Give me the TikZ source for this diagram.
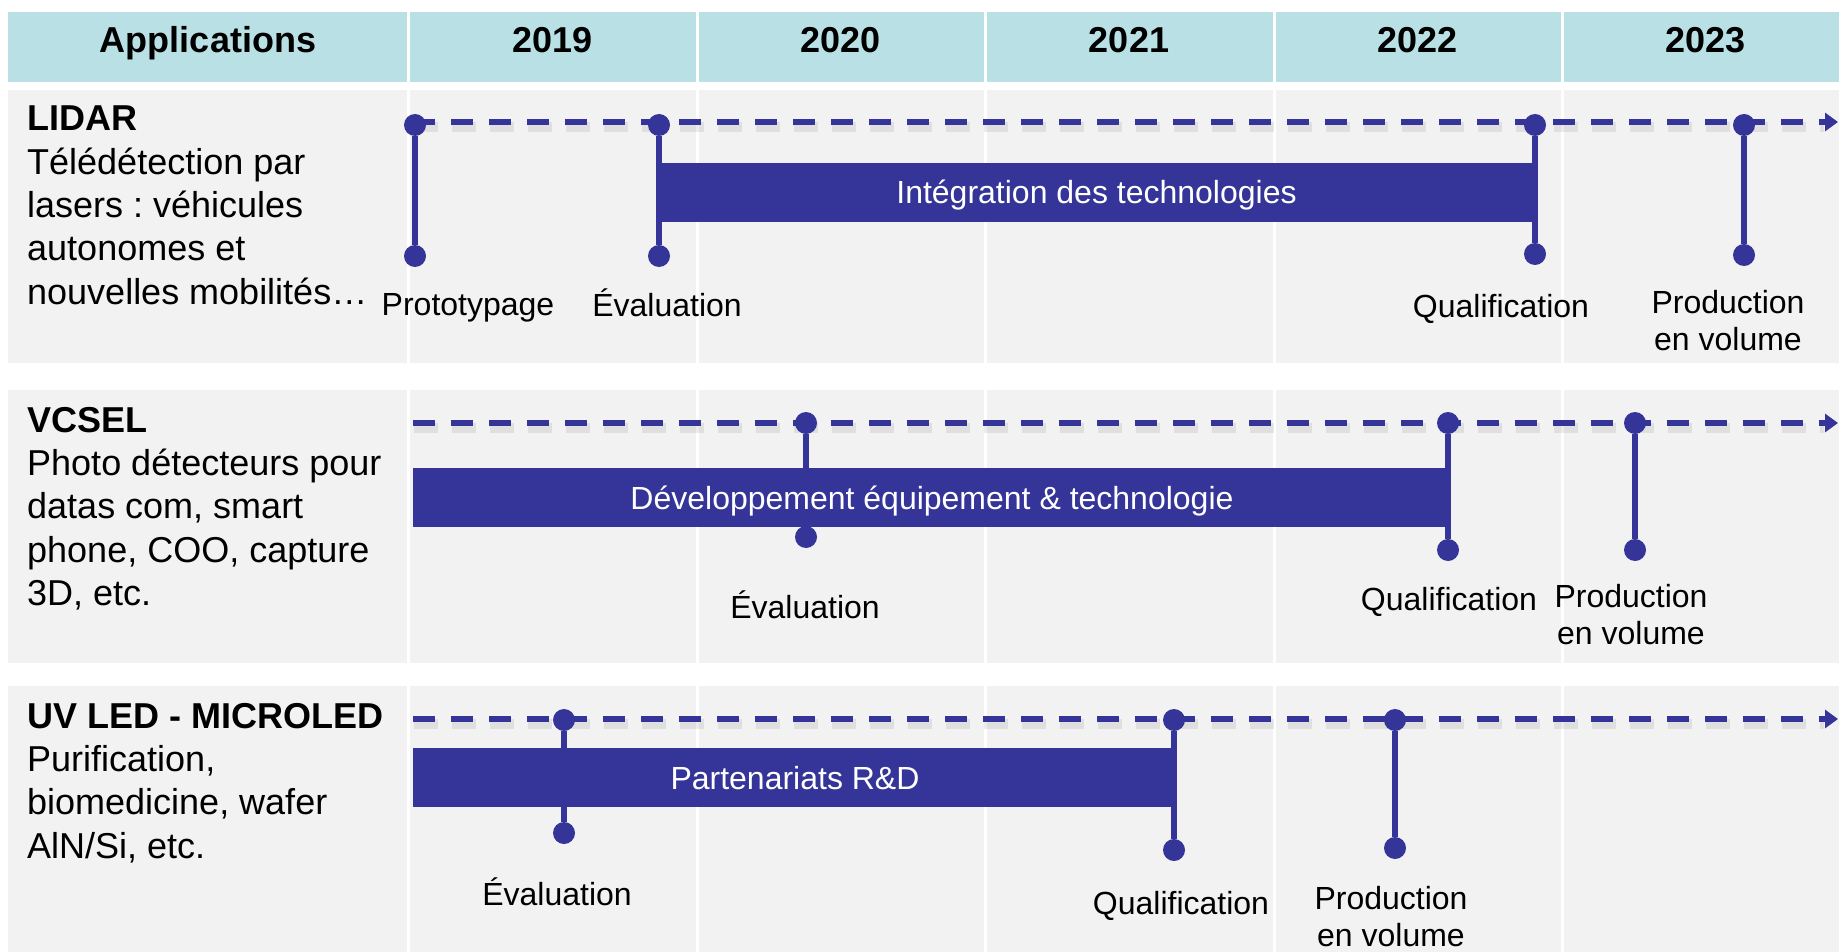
\documentclass[tikz,border=0pt]{standalone}
\usepackage{fontspec}
\setmainfont{Liberation Sans}
\usetikzlibrary{arrows.meta}
\definecolor{hdrteal}{RGB}{185,224,228}
\definecolor{rowgrey}{RGB}{242,242,242}
\definecolor{navy}{RGB}{53,52,152}
\frenchspacing

\begin{document}
\begin{tikzpicture}[x=1pt, y=-1pt,
    hdrtext/.style = {anchor=base, inner sep=0pt, font=\fontsize{36}{43}\selectfont\bfseries},
    rowtext/.style = {anchor=north west, align=left, inner sep=0pt, font=\fontsize{36}{43.3}\selectfont},
    mlabel/.style = {anchor=base, inner sep=0pt, font=\fontsize{32}{37}\selectfont},
    mlabeltwo/.style = {anchor=north, align=center, inner sep=0pt, font=\fontsize{32}{37}\selectfont},
    knob/.style = {circle, fill=navy, inner sep=0pt, minimum size=22pt},
    stemline/.style = {navy, line width=5.5pt},
    barbox/.style = {fill=navy, text=white, inner sep=0pt, minimum height=59pt,
                     text height=23pt, text depth=0pt, font=\fontsize{32}{37}\selectfont},
    timeline/.style = {navy, line width=6pt, dash pattern=on 22pt off 16pt,
                       -{Triangle[length=13pt,width=18pt]}},
    shadowline/.style = {black, opacity=0.08, line width=10pt, dash pattern=on 24pt off 14pt}]

    % background
    \useasboundingbox (0,0) rectangle (1839,952);
    \fill[white] (0,0) rectangle (1839,952);
    \fill[hdrteal] (8,12) rectangle (1839,82);
    \fill[rowgrey] (8,90) rectangle (1839,363);
    \fill[rowgrey] (8,390) rectangle (1839,663);
    \fill[rowgrey] (8,686) rectangle (1839,952);
    \foreach \x in {408.5,697,985.5,1274,1562}
        \draw[white, line width=3pt] (\x,12) -- (\x,952);

    % header
    \node[hdrtext] (happ) at (208,53) {Applications};
    \foreach \yr [count=\i] in {2019,2020,2021,2022,2023}
        \node[hdrtext] (h\yr) at ({408+288.4*(\i-0.5)},53) {\yr};

    % applications
    \node[rowtext] (lidar) at (27,106) {\textbf{LIDAR}\\Télédétection par\\lasers : véhicules\\autonomes et\\nouvelles mobilités…};
    \node[rowtext] (vcsel) at (27,407) {\textbf{VCSEL}\\Photo détecteurs pour\\datas com, smart\\phone, COO, capture\\3D, etc.};
    \node[rowtext] (uvled) at (27,703) {\textbf{UV LED - MICROLED}\\Purification,\\biomedicine, wafer\\AlN/Si, etc.};

    % timelines
    \coordinate (ls) at (413,122);  \coordinate (le) at (1838,122);
    \coordinate (vs) at (413,423);  \coordinate (ve) at (1838,423);
    \coordinate (us) at (413,719);  \coordinate (ue) at (1838,719);
    \draw[shadowline] ([xshift=1pt,yshift=-5pt]ls) -- ([xshift=-14pt,yshift=-5pt]le);
    \draw[shadowline] ([xshift=1pt,yshift=-5pt]vs) -- ([xshift=-14pt,yshift=-5pt]ve);
    \draw[shadowline] ([xshift=1pt,yshift=-5pt]us) -- ([xshift=-14pt,yshift=-5pt]ue);
    \draw[timeline] (ls) -- (le);
    \draw[timeline] (vs) -- (ve);
    \draw[timeline] (us) -- (ue);

    % VCSEL evaluation sits behind its bar
    \node[knob] (vt1) at (806,423) {};   \node[knob] (vb1) at (806,537) {};
    \draw[stemline] (vt1) -- (vb1);

    % bars
    \node[barbox, minimum width=881pt] (lbar) at (1096.5,192.5) {Intégration des technologies};
    \node[barbox, minimum width=1038pt] (vbar) at (932,497.5) {Développement équipement \& technologie};
    \node[barbox, minimum width=764pt] (ubar) at (795,777.5) {Partenariats R\&D};

    % LIDAR milestones
    \node[knob] (lt1) at (415,125) {};   \node[knob] (lb1) at (415,256) {};
    \node[knob] (lt2) at (659,125) {};   \node[knob] (lb2) at (659,256) {};
    \node[knob] (lt3) at (1535,125) {};  \node[knob] (lb3) at (1535,254) {};
    \node[knob] (lt4) at (1744,125) {};  \node[knob] (lb4) at (1744,255) {};
    \draw[stemline] (lt1) -- (lb1);
    \draw[stemline] (lt2) -- (lb2);
    \draw[stemline] (lt3) -- (lb3);
    \draw[stemline] (lt4) -- (lb4);
    \node[mlabel] (ll1) at (468,315) {Prototypage};
    \node[mlabel] (ll2) at (667,316) {Évaluation};
    \node[mlabel] (ll3) at (1501,317) {Qualification};
    \node[mlabeltwo] (ll4) at (1728,290) {Production\\en volume};

    % VCSEL milestones
    \node[knob] (vt2) at (1448,423) {};  \node[knob] (vb2) at (1448,550) {};
    \node[knob] (vt3) at (1635,423) {};  \node[knob] (vb3) at (1635,550) {};
    \draw[stemline] (vt2) -- (vb2);
    \draw[stemline] (vt3) -- (vb3);
    \node[mlabel] (vl1) at (805,618) {Évaluation};
    \node[mlabel] (vl2) at (1449,610) {Qualification};
    \node[mlabeltwo] (vl3) at (1631,584) {Production\\en volume};

    % UV LED milestones
    \node[knob] (ut1) at (564,720) {};   \node[knob] (ub1) at (564,833) {};
    \node[knob] (ut2) at (1174,720) {};  \node[knob] (ub2) at (1174,850) {};
    \node[knob] (ut3) at (1395,720) {};  \node[knob] (ub3) at (1395,848) {};
    \draw[stemline] (ut1) -- (ub1);
    \draw[stemline] (ut2) -- (ub2);
    \draw[stemline] (ut3) -- (ub3);
    \node[mlabel] (ul1) at (557,905) {Évaluation};
    \node[mlabel] (ul2) at (1181,914) {Qualification};
    \node[mlabeltwo] (ul3) at (1391,886) {Production\\en volume};
\end{tikzpicture}
\end{document}
